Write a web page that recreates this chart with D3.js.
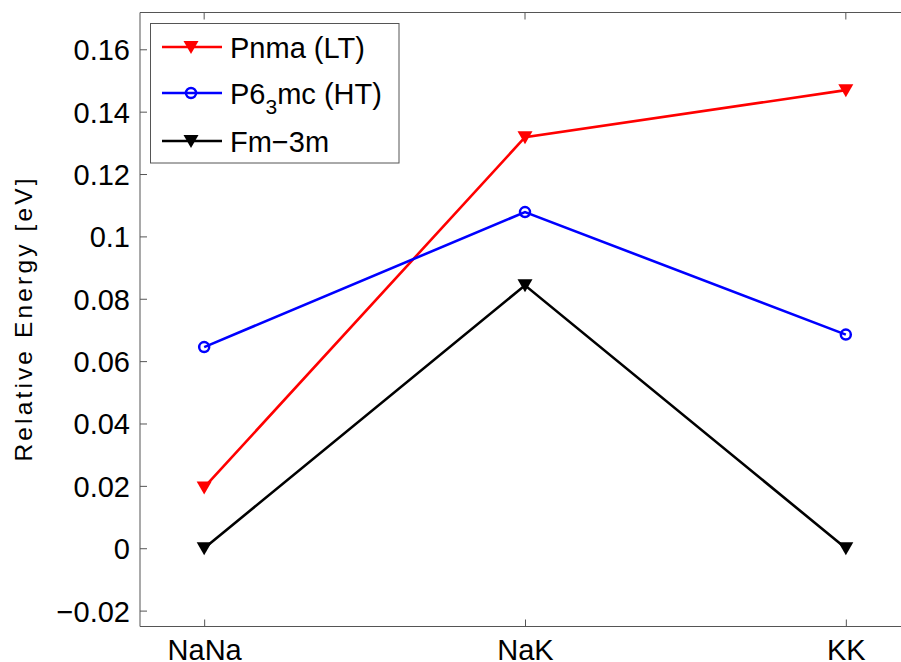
<!DOCTYPE html>
<html><head><meta charset="utf-8">
<script src="https://cdn.jsdelivr.net/npm/d3@7"></script>
<style>body{margin:0;background:#fff}svg{display:block}text{font-family:"Liberation Sans",Arial,sans-serif}</style>
</head><body>
<svg id="chart" width="901" height="662"></svg>
<script>
const categories = ["NaNa", "NaK", "KK"];
const pnma = [0.0195, 0.1318, 0.1469];
const p63mc = [0.0645, 0.1078, 0.0685];
const fm3m = [0.0, 0.0843, 0.0];
const yTicks = [-0.02, 0, 0.02, 0.04, 0.06, 0.08, 0.1, 0.12, 0.14, 0.16];

const series = [
  {name: "Pnma (LT)", values: pnma, color: "#ff0000", marker: "tri"},
  {name: "P6_3mc (HT)", values: p63mc, color: "#0000ff", marker: "circ"},
  {name: "Fm\u22123m", values: fm3m, color: "#000000", marker: "tri"}
];

const svg = d3.select("#chart");
const L = 140, R = 910, T = 12.5, B = 626.5;
const x = d3.scaleLinear().domain([0.8, 3.2]).range([L, R]);
const y = d3.scaleLinear().domain([-0.0251, 0.1718]).range([B, T]);
const axisColor = "#555";
const fs = 29;

// frame lines (left, bottom, top)
svg.append("line").attr("x1", L).attr("x2", L).attr("y1", T).attr("y2", B).attr("stroke", axisColor);
svg.append("line").attr("x1", L).attr("x2", R).attr("y1", B).attr("y2", B).attr("stroke", axisColor);
svg.append("line").attr("x1", L).attr("x2", R).attr("y1", T).attr("y2", T).attr("stroke", axisColor);

// y axis
const yAxis = d3.axisLeft(y).tickValues(yTicks).tickSize(-7)
  .tickFormat(d => d === 0 ? "0" : String(+d.toFixed(2)).replace("-", "\u2212"));
const gy = svg.append("g").attr("transform", `translate(${L},0)`).call(yAxis);
gy.select(".domain").remove();
gy.selectAll("line").attr("stroke", axisColor);
gy.selectAll("text").attr("font-size", fs).attr("fill", "#000").attr("x", -10).attr("dy", "0.36em");

// x axis
const xAxis = d3.axisBottom(x).tickValues([1, 2, 3]).tickSize(-7)
  .tickFormat(d => categories[d - 1]);
const gx = svg.append("g").attr("transform", `translate(0,${B})`).call(xAxis);
gx.select(".domain").remove();
gx.selectAll("line").attr("stroke", axisColor);
gx.selectAll("text").attr("font-size", fs).attr("fill", "#000").attr("dy", 0).attr("y", 33);
// top ticks
[1, 2, 3].forEach(v => svg.append("line").attr("x1", x(v)).attr("x2", x(v)).attr("y1", T).attr("y2", T + 7).attr("stroke", axisColor));

// y label
svg.append("text").attr("transform", `translate(32,320) rotate(-90)`)
  .attr("text-anchor", "middle").attr("font-size", 24.5)
  .attr("textLength", 283).attr("lengthAdjust", "spacing").text("Relative Energy [eV]");

function drawMarker(g, cx, cy, s) {
  if (s.marker === "tri") {
    g.append("path").attr("d", `M${cx - 7.5},${cy - 6} L${cx + 7.5},${cy - 6} L${cx},${cy + 7} Z`).attr("fill", s.color);
  } else {
    g.append("circle").attr("cx", cx).attr("cy", cy).attr("r", 5).attr("fill", "none")
      .attr("stroke", s.color).attr("stroke-width", 2.5);
  }
}

const line = d3.line().x((d, i) => x(i + 1)).y(d => y(d));
series.forEach(s => {
  svg.append("path").attr("d", line(s.values)).attr("fill", "none").attr("stroke", s.color).attr("stroke-width", 2.6);
  const g = svg.append("g");
  s.values.forEach((v, i) => drawMarker(g, x(i + 1), y(v), s));
});

// legend
const lg = svg.append("g");
lg.append("rect").attr("x", 150.5).attr("y", 23.5).attr("width", 248.5).attr("height", 139.5)
  .attr("fill", "#fff").attr("stroke", axisColor).attr("stroke-width", 1);
const rows = [47, 93, 141];
series.forEach((s, i) => {
  const yy = rows[i];
  lg.append("line").attr("x1", 162).attr("x2", 222).attr("y1", yy).attr("y2", yy).attr("stroke", s.color).attr("stroke-width", 2.6);
  drawMarker(lg, 191, yy, s);
  const t = lg.append("text").attr("x", 230).attr("y", yy + 11).attr("font-size", fs);
  if (s.name.includes("_")) {
    const [a, rest] = s.name.split("_");
    t.append("tspan").text(a);
    t.append("tspan").attr("font-size", 21).attr("dy", 10).text(rest[0]);
    t.append("tspan").attr("dy", -10).text(rest.slice(1));
  } else t.text(s.name);
});
</script>
</body></html>
